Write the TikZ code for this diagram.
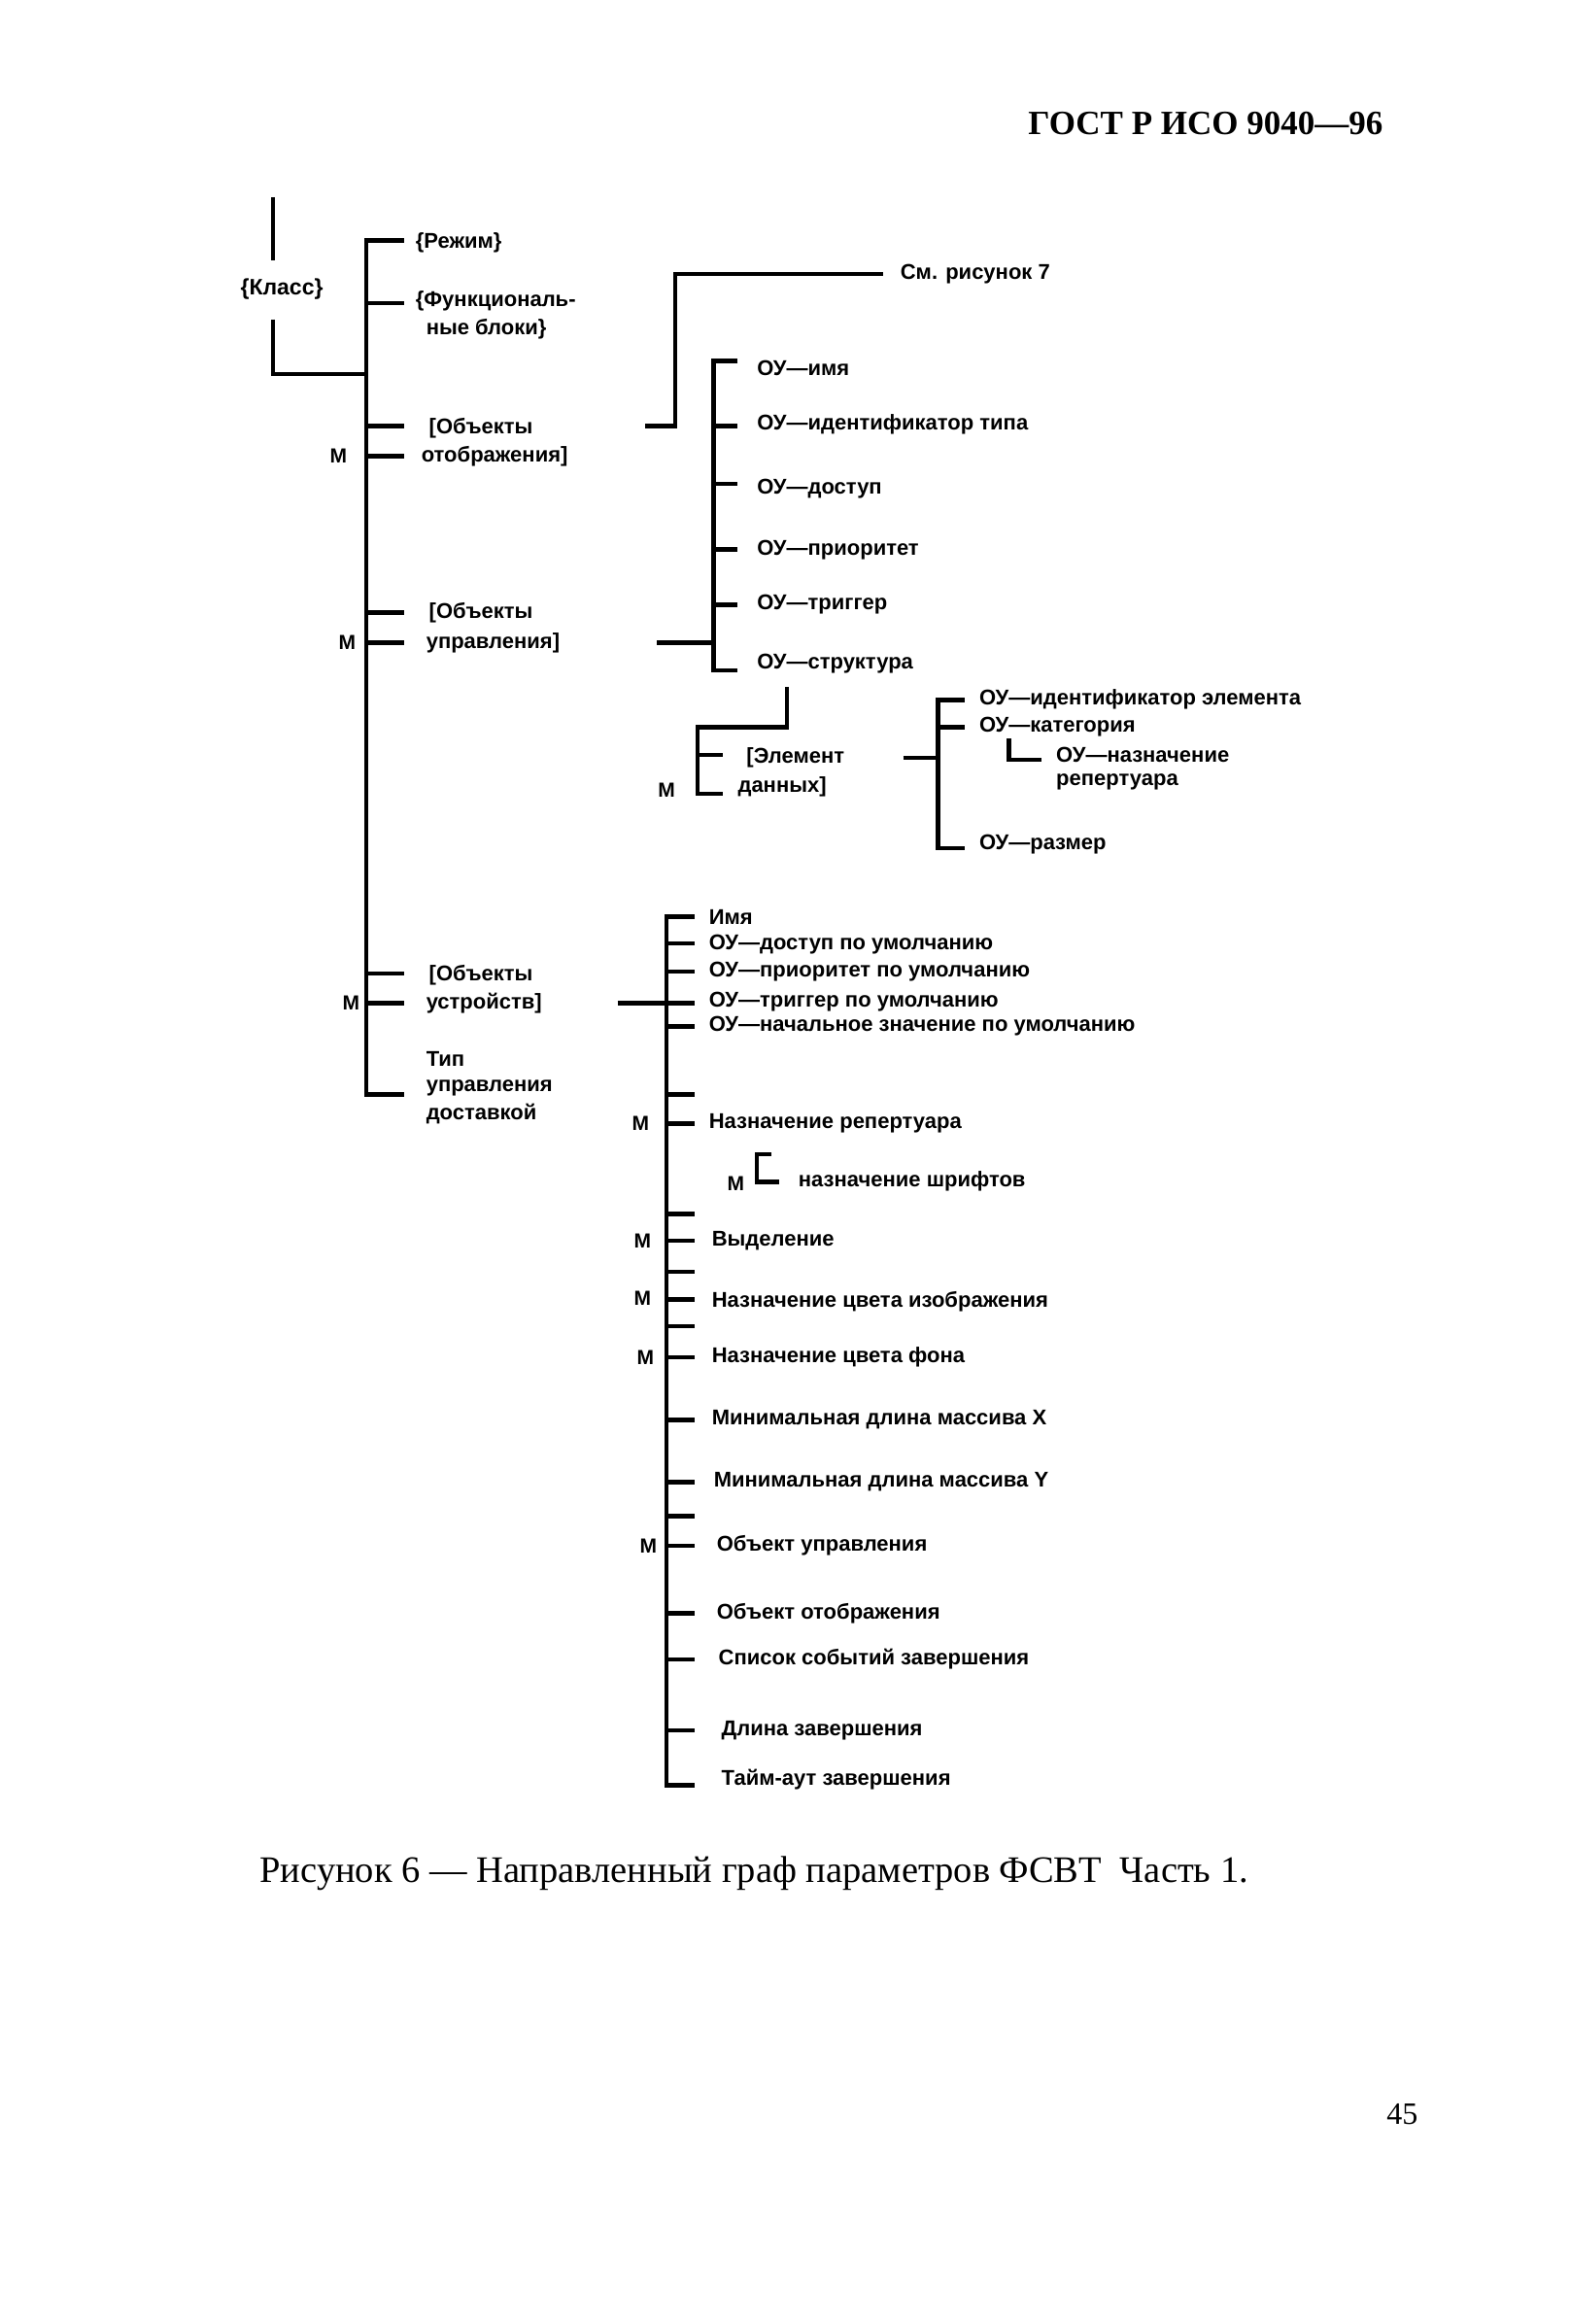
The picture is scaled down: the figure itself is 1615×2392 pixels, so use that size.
\documentclass[tikz,border=0pt]{standalone}
\usepackage{fontspec}
\setmainfont{Liberation Serif}
\newfontfamily\lblf{Liberation Sans}
\begin{document}
\begin{tikzpicture}[x=1pt,y=-1pt,
  ln/.style={line width=4.5pt},
  lbl/.style={anchor=west,inner sep=0pt,font=\lblf\bfseries\fontsize{22}{24}\selectfont},
  mm/.style={anchor=center,inner sep=0pt,font=\lblf\bfseries\fontsize{21}{24}\selectfont}]
\useasboundingbox (0,0) rectangle (1615,2392);
\begin{scope}[scale=0.99]
% header
\node[anchor=east,font=\bfseries\fontsize{35}{38}\selectfont,inner sep=0pt] (hdr) at (1438,128) {ГОСТ Р ИСО 9040—96};
% root
\draw[ln] (284,205) -- (284,271);
\node[mm,font=\lblf\bfseries\fontsize{23}{26}\selectfont] (klass) at (293,301) {\{Класс\}};
\draw[ln] (284,332) -- (284,389) -- (381,389);
% main spine
\draw[ln] (420,250) -- (381,250) -- (381,1138) -- (420,1138);
\foreach \y in {315,443,474,637,668,1012,1043} \draw[ln] (381,\y) -- (420,\y);
\node[lbl] (rez) at (432,252) {\{Режим\}};
\node[lbl] (fb1) at (432,313) {\{Функциональ-};
\node[lbl] (fb2) at (443,342) {ные блоки\}};
\node[lbl] (oo1) at (446,445) {[Объекты};
\node[lbl] (oo2) at (438,474) {отображения]};
\node[mm] (m1) at (352,474) {М};
\node[lbl] (ou1) at (446,637) {[Объекты};
\node[lbl] (ou2) at (443,668) {управления]};
\node[mm] (m2) at (361,668) {М};
\node[lbl] (ud1) at (446,1014) {[Объекты};
\node[lbl] (ud2) at (443,1043) {устройств]};
\node[mm] (m3) at (365,1043) {М};
\node[lbl] (tip1) at (443,1101) {Тип};
\node[lbl] (tip2) at (443,1131) {управления};
\node[lbl] (tip3) at (443,1158) {доставкой};
% see figure 7
\draw[ln] (671,443) -- (702,443) -- (702,285) -- (918,285);
\node[lbl] (see7) at (936,285) {См. рисунок 7};
% control object group
\draw[ln] (683,668) -- (742,668);
\draw[ln] (767,375) -- (742,375) -- (742,697) -- (767,697);
\foreach \y in {443,503,571,629} \draw[ln] (742,\y) -- (767,\y);
\node[lbl] (c1) at (787,383) {ОУ—имя};
\node[lbl] (c2) at (787,441) {ОУ—идентификатор типа};
\node[lbl] (c3) at (787,508) {ОУ—доступ};
\node[lbl] (c4) at (787,572) {ОУ—приоритет};
\node[lbl] (c5) at (787,628) {ОУ—триггер};
\node[lbl] (c6) at (787,690) {ОУ—структура};
% data element
\draw[ln] (818,714) -- (818,756) -- (725,756) -- (725,825) -- (751,825);
\draw[ln] (725,785) -- (751,785);
\node[lbl] (el1) at (776,788) {[Элемент};
\node[lbl] (el2) at (767,818) {данных]};
\node[mm] (m4) at (693,821) {М};
% structure children
\draw[ln] (939,788) -- (975,788);
\draw[ln] (1003,728) -- (975,728) -- (975,882) -- (1003,882);
\draw[ln] (975,756) -- (1003,756);
\draw[ln] (1049,768) -- (1049,790) -- (1083,790);
\node[lbl] (s1) at (1018,727) {ОУ—идентификатор элемента};
\node[lbl] (s2) at (1018,756) {ОУ—категория};
\node[lbl] (s3) at (1098,785) {ОУ—назначение};
\node[lbl] (s4) at (1098,813) {репертуара};
\node[lbl] (s5) at (1018,878) {ОУ—размер};
% device objects group
\draw[ln] (642,1043) -- (693,1043);
\draw[ln] (722,953) -- (693,953) -- (693,1856) -- (722,1856);
\foreach \y in {981,1010,1043,1067,1138,1168,1262,1290,1322,1351,1379,1411,1476,1541,1576,1607,1677,1725,1799} \draw[ln] (693,\y) -- (722,\y);
\node[lbl] (d1) at (737,953) {Имя};
\node[lbl] (d2) at (737,982) {ОУ—доступ по умолчанию};
\node[lbl] (d3) at (737,1010) {ОУ—приоритет по умолчанию};
\node[lbl] (d4) at (737,1041) {ОУ—триггер по умолчанию};
\node[lbl] (d5) at (737,1067) {ОУ—начальное значение по умолчанию};
\node[lbl] (d6) at (737,1168) {Назначение репертуара};
\node[mm] (m5) at (666,1168) {М};
\draw[ln] (802,1200) -- (787,1200) -- (787,1229) -- (810,1229);
\node[mm] (m6) at (765,1231) {М};
\node[lbl] (d7) at (830,1228) {назначение шрифтов};
\node[lbl] (d8) at (740,1290) {Выделение};
\node[mm] (m7) at (668,1290) {М};
\node[lbl] (d9) at (740,1353) {Назначение цвета изображения};
\node[mm] (m8) at (668,1350) {М};
\node[lbl] (d10) at (740,1411) {Назначение цвета фона};
\node[mm] (m9) at (671,1411) {М};
\node[lbl] (d11) at (740,1476) {Минимальная длина массива X};
\node[lbl] (d12) at (742,1541) {Минимальная длина массива Y};
\node[lbl] (d13) at (745,1607) {Объект управления};
\node[mm] (m10) at (674,1607) {М};
\node[lbl] (d14) at (745,1677) {Объект отображения};
\node[lbl] (d15) at (747,1725) {Список событий завершения};
\node[lbl] (d16) at (750,1799) {Длина завершения};
\node[lbl] (d17) at (750,1850) {Тайм-аут завершения};
% caption
\node[anchor=west,inner sep=0pt,font=\fontsize{38.5}{42}\selectfont] (cap) at (270,1948) {Рисунок 6 — Направленный граф параметров ФСВТ \ Часть 1.};
\node[anchor=center,inner sep=0pt,font=\fontsize{32}{36}\selectfont] (pg) at (1458,2198) {45};
\end{scope}
\end{tikzpicture}
\end{document}
